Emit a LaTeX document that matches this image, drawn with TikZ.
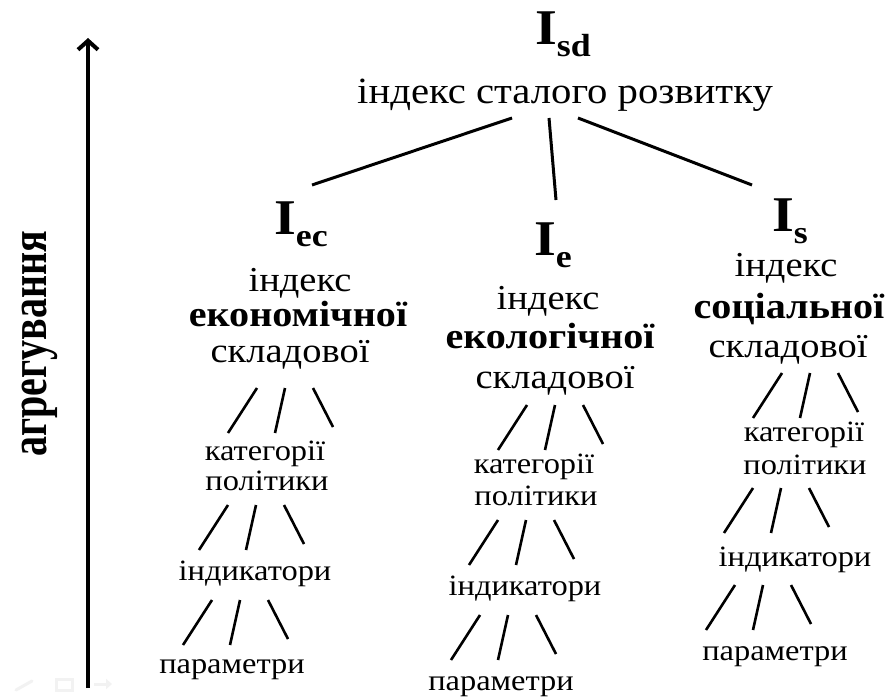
\documentclass[tikz,border=0pt]{standalone}
\usepackage{fontspec}
\usepackage{graphicx}
\setmainfont{Liberation Serif}
\usetikzlibrary{arrows.meta,calc}
\newcommand\hs[1]{\scalebox{1.1}[1]{#1}}
\newcommand\Isub[1]{\scalebox{1.12}[1]{I\raisebox{-12pt}{\fontsize{32}{32}\selectfont #1}}}
\newcommand\fanof[3]{%
  \coordinate (#1-s1) at (#2,#3);
  \coordinate (#1-s2) at ($(#1-s1)+(28,0)$);
  \coordinate (#1-s3) at ($(#1-s1)+(56,0)$);
  \coordinate (#1-e1) at ($(#1-s1)+(-29,45)$);
  \coordinate (#1-e2) at ($(#1-s2)+(-10,45)$);
  \coordinate (#1-e3) at ($(#1-s3)+(20,39)$);
  \draw[fanline] (#1-s1) -- (#1-e1);
  \draw[fanline] (#1-s2) -- (#1-e2);
  \draw[fanline] (#1-s3) -- (#1-e3);}
\begin{document}
\begin{tikzpicture}[x=1pt,y=-1pt,
  conn/.style={line width=3pt},
  fanline/.style={line width=2.6pt},
  bigI/.style={anchor=base,inner sep=0pt,font=\fontsize{50}{50}\selectfont\bfseries},
  hd/.style={anchor=base,inner sep=0pt,font=\fontsize{35}{36}\selectfont},
  hdb/.style={anchor=base,inner sep=0pt,font=\fontsize{36.5}{38}\selectfont\bfseries},
  lvl/.style={anchor=base,inner sep=0pt,font=\fontsize{29.5}{30}\selectfont},
  icon/.style={draw=gray!10,line width=3pt}
]
\useasboundingbox (0,0) rectangle (890,698);
\fill[white] (0,0) rectangle (890,698);

% aggregation axis
\coordinate (ab) at (88,688);
\coordinate (at) at (88,38);
\draw[line width=4pt,-{Straight Barb[length=9pt,width=20pt]}] (ab) -- (at);
\node[rotate=90,inner sep=0pt,font=\fontsize{40}{40}\selectfont\bfseries] (agg) at (40,344) {\scalebox{1}[1.3]{агрегування}};

% top
\node[bigI] (isd) at (563,45) {\Isub{sd}};
\node[hd,font=\fontsize{37}{38}\selectfont] (top) at (565,103) {\hs{індекс сталого розвитку}};

% column 1
\node[bigI] (iec) at (301,234) {\Isub{ec}};
\node[hd] (ec1) at (300,291) {\hs{індекс}};
\node[hdb] (ec2) at (298,326) {\hs{економічної}};
\node[hd] (ec3) at (290,362) {\hs{складової}};
\node[lvl] (ec4) at (265,460) {\hs{категорії}};
\node[lvl] (ec5) at (267,490) {\hs{політики}};
\node[lvl] (ec6) at (255,580) {\hs{індикатори}};
\node[lvl] (ec7) at (232,673) {\hs{параметри}};

% column 2
\node[bigI] (ie) at (553,255) {\Isub{e}};
\node[hd] (e1) at (548,309) {\hs{індекс}};
\node[hdb] (e2) at (550,348) {\hs{екологічної}};
\node[hd] (e3) at (555,388) {\hs{складової}};
\node[lvl] (e4) at (534,473) {\hs{категорії}};
\node[lvl] (e5) at (536,505) {\hs{політики}};
\node[lvl] (e6) at (525,595) {\hs{індикатори}};
\node[lvl] (e7) at (501,690) {\hs{параметри}};

% column 3
\node[bigI] (is) at (790,231) {\Isub{s}};
\node[hd] (s1) at (786,276) {\hs{індекс}};
\node[hdb] (s2) at (789,318) {\hs{соціальної}};
\node[hd] (s3) at (788,357) {\hs{складової}};
\node[lvl] (s4) at (804,441) {\hs{категорії}};
\node[lvl] (s5) at (805,474) {\hs{політики}};
\node[lvl] (s6) at (795,566) {\hs{індикатори}};
\node[lvl] (s7) at (775,660) {\hs{параметри}};

% top connectors
\coordinate (t1) at (512,118);
\coordinate (t2) at (549,118);
\coordinate (t3) at (578,118);
\coordinate (c1) at (312,185);
\coordinate (c2) at (556,200);
\coordinate (c3) at (752,185);
\draw[conn] (t1) -- (c1);
\draw[conn] (t2) -- (c2);
\draw[conn] (t3) -- (c3);

% fans
\fanof{fa1}{257}{388}
\fanof{fa2}{228}{505}
\fanof{fa3}{212}{600}
\fanof{fb1}{527}{405}
\fanof{fb2}{498}{520}
\fanof{fb3}{480}{615}
\fanof{fc1}{782}{373}
\fanof{fc2}{753}{488}
\fanof{fc3}{735}{585}

% faint slide controls
\draw[icon,line cap=round] (16,690) -- (32,681);
\draw[icon] (56,679) rectangle (72,690);
\draw[icon,-{Triangle[length=6pt,width=10pt]}] (94,684) -- (112,684);
\end{tikzpicture}
\end{document}
